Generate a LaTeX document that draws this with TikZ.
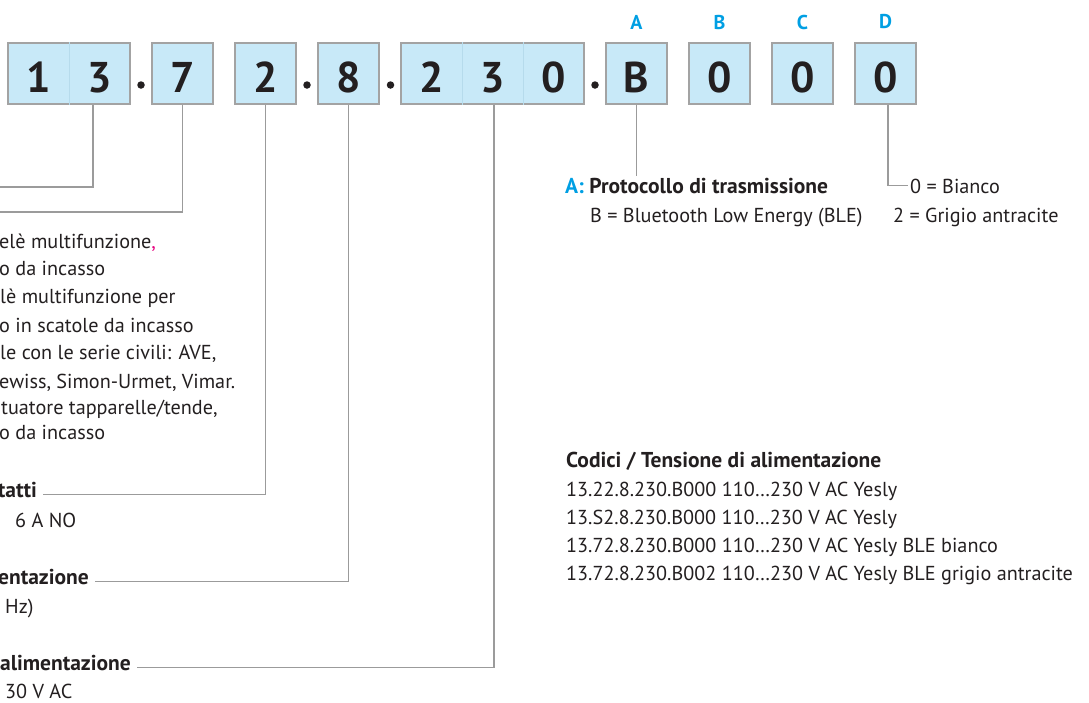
\documentclass[tikz,border=0pt]{standalone}
\usepackage{fontspec}
\setmainfont{PT Sans}
\usetikzlibrary{positioning}
\definecolor{boxblue}{HTML}{C8E9F8}
\definecolor{boxgray}{HTML}{A3A3A3}
\definecolor{cellgray}{HTML}{B6DBEC}
\definecolor{linegray}{HTML}{9B9B9B}
\definecolor{codecyan}{HTML}{009FE3}
\definecolor{inkblack}{HTML}{231F20}
\definecolor{accentpink}{HTML}{E6007E}
\newcommand{\digitcell}[1]{\makebox[61pt]{#1}}

\begin{document}
\begin{tikzpicture}[x=1pt,y=-1pt]
\tikzset{
  digitbox/.style={draw=boxgray,fill=boxblue,line width=1.3pt,minimum width=61pt,minimum height=61pt,inner sep=0pt,text=inkblack,font=\bfseries\fontsize{43}{43}\selectfont,text height=37pt,text depth=0pt},
  cellrule/.style={draw=cellgray,line width=0.8pt},
  dotmark/.style={circle,fill=inkblack,minimum size=7.5pt,inner sep=0pt},
  posletter/.style={text=codecyan,font=\bfseries\fontsize{20}{20}\selectfont,inner sep=0pt},
  bodytext/.style={anchor=base west,inner sep=0pt,text=inkblack,font=\fontsize{20.2}{24}\selectfont},
  headtext/.style={anchor=base west,inner sep=0pt,text=inkblack,font=\bfseries\fontsize{21.5}{24}\selectfont},
  cuthead/.style={anchor=base east,inner xsep=6pt,inner ysep=0pt,text height=0.5em,text depth=0pt,text=inkblack,font=\bfseries\fontsize{21.5}{24}\selectfont},
  conn/.style={draw=linegray,line width=1.1pt}
}
\useasboundingbox (0,0) rectangle (1089,702);
\node[digitbox] (b13) at (69,73.5) {\digitcell{1}\digitcell{3}};
\node[digitbox] (b7) at (182.5,73.5) {\digitcell{7}};
\node[digitbox] (b2) at (265.5,73.5) {\digitcell{2}};
\node[digitbox] (b8) at (348.5,73.5) {\digitcell{8}};
\node[digitbox] (b230) at (492.5,73.5) {\digitcell{2}\digitcell{3}\digitcell{0}};
\node[digitbox] (bPosA) at (636.5,73.5) {\digitcell{B}};
\node[digitbox] (bPosB) at (719.5,73.5) {\digitcell{0}};
\node[digitbox] (bPosC) at (802.5,73.5) {\digitcell{0}};
\node[digitbox] (bPosD) at (885.5,73.5) {\digitcell{0}};
\draw[cellrule] (b13.north) -- (b13.south);
\draw[cellrule] ([xshift=-30.5pt]b230.north) -- ([xshift=-30.5pt]b230.south);
\draw[cellrule] ([xshift=30.5pt]b230.north) -- ([xshift=30.5pt]b230.south);
\node[dotmark] (dot1) at (141,85) {};
\node[dotmark] (dot2) at (307,85) {};
\node[dotmark] (dot3) at (390.5,85) {};
\node[dotmark] (dot4) at (595,85) {};
\node[posletter] (lA) at (636.5,22) {A};
\node[posletter] (lB) at (719.5,22) {B};
\node[posletter] (lC) at (802.5,22) {C};
\node[posletter] (lD) at (885.5,22) {D};
\coordinate (e13) at (0,187);
\coordinate (e7) at (0,212);
\node[bodytext] (t1) at (-1,248) {elè multifunzione{\color{accentpink},}};
\node[bodytext] (t2) at (-1,275) {o da incasso};
\node[bodytext] (t3) at (0,303) {lè multifunzione per};
\node[bodytext] (t4) at (-1,332) {o in scatole da incasso};
\node[bodytext] (t5) at (0,359) {le con le serie civili: AVE,};
\node[bodytext] (t6) at (-1,388) {ewiss, Simon-Urmet, Vimar.};
\node[bodytext] (t7) at (1,414) {tuatore tapparelle/tende,};
\node[bodytext] (t8) at (-1,439) {o da incasso};
\node[cuthead] (hContatti) at (43,497) {tatti};
\node[bodytext] (tContatti) at (15,527) {6 A NO};
\node[cuthead] (hFreq) at (95,584) {entazione};
\node[bodytext] (tFreq) at (5,613) {Hz)};
\node[cuthead] (hTens) at (137,670) {alimentazione};
\node[bodytext] (tTens) at (5,698) {30 V AC};
\node[headtext] (hProt) at (565,193) {{\color{codecyan}A:} Protocollo di trasmissione};
\node[bodytext] (tProt) at (590,222) {B = Bluetooth Low Energy (BLE)};
\node[bodytext] (tBianco) at (910,193) {0 = Bianco};
\node[bodytext] (tGrigio) at (893,222) {2 = Grigio antracite};
\node[headtext] (hCodici) at (566,467) {Codici / Tensione di alimentazione};
\node[bodytext] (c1) at (566,496) {13.22.8.230.B000 110…230 V AC Yesly};
\node[bodytext] (c2) at (566,524) {13.S2.8.230.B000 110…230 V AC Yesly};
\node[bodytext] (c3) at (566,552) {13.72.8.230.B000 110…230 V AC Yesly BLE bianco};
\node[bodytext] (c4) at (566,580) {13.72.8.230.B002 110…230 V AC Yesly BLE grigio antracite};
\draw[conn] ([xshift=24pt]b13.south) |- (e13);
\draw[conn] (b7.south) |- (e7);
\draw[conn] (b2.south) |- (hContatti.east);
\draw[conn] (b8.south) |- (hFreq.east);
\draw[conn] ([xshift=1.5pt]b230.south) |- (hTens.east);
\draw[conn] (bPosA.south) -- ([yshift=2pt]bPosA.south |- hProt.north);
\draw[conn] ([xshift=2.5pt]bPosD.south) |- ([xshift=-2pt]tBianco.west);
\end{tikzpicture}
\end{document}
